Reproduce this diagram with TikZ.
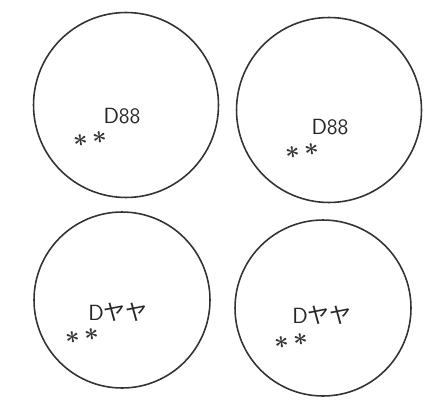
\documentclass[tikz,border=0pt]{standalone}
\usepackage{fontspec}
\newfontfamily\jpfont{Noto Sans CJK JP}
\usetikzlibrary{positioning}

\begin{document}
\begin{tikzpicture}[
    x=0.02cm, y=-0.02cm,
    cell/.style={draw=black!80, line width=0.9pt, circle, inner sep=0pt},
    bigcell/.style={cell, minimum size=3.7cm},
    smallcell/.style={cell, minimum size=3.52cm},
    lbl/.style={font=\sffamily\fontsize{12.5}{13}\selectfont, inner sep=0pt, text=black!85},
    stars/.style={font=\Large\boldmath, inner sep=0pt, text=black!80, rotate=8},
  ]
    \useasboundingbox (0,0) rectangle (438,405);

    \node[bigcell] (c1) at (126,105) {};
    \node[bigcell] (c2) at (329,110) {};
    \node[smallcell] (c3) at (122,300) {};
    \node[smallcell] (c4) at (323,308) {};

    \node[lbl] (t1) at (122,116) {D88};
    \node[lbl] (t2) at (330,127) {D88};
    \node[lbl] (t3) at (118,312) {D{\jpfont ヤヤ}};
    \node[lbl] (t4) at (322,315) {D{\jpfont ヤヤ}};

    \node[stars] (s1) at (90,139) {$\ast\,\ast$};
    \node[stars] (s2) at (302,151) {$\ast\,\ast$};
    \node[stars] (s3) at (82,336) {$\ast\,\ast$};
    \node[stars] (s4) at (291,341) {$\ast\,\ast$};
  \end{tikzpicture}
\end{document}
